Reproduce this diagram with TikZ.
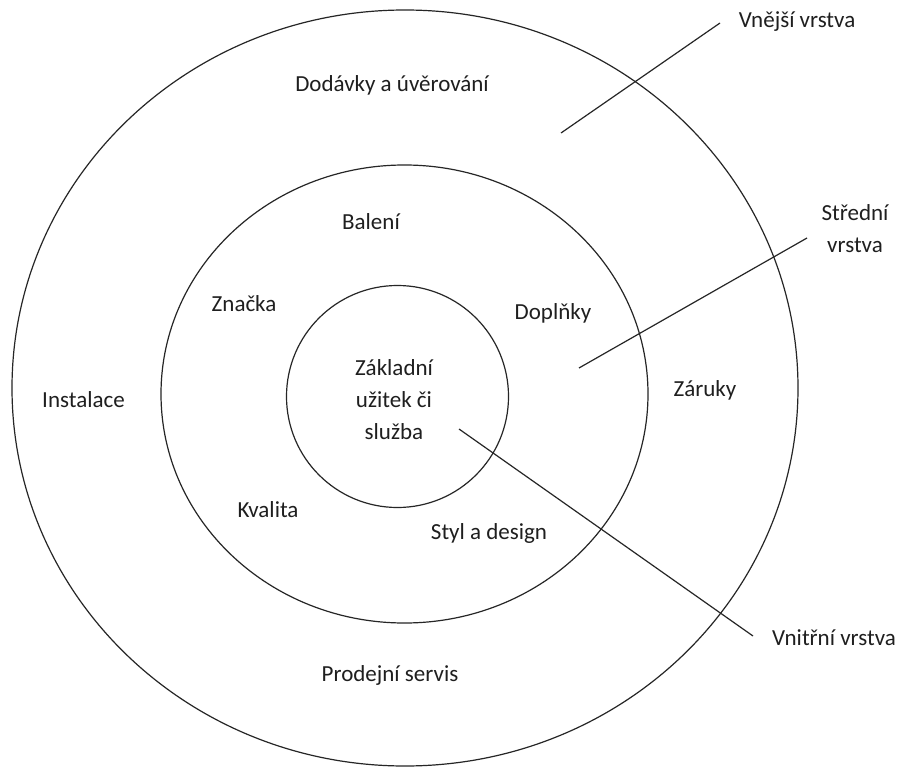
\documentclass[tikz,border=0pt]{standalone}
\usepackage{fontspec}
\setmainfont{Carlito}
\begin{document}
\begin{tikzpicture}[x=0.75pt,y=-0.75pt,
  lbl/.style={font=\fontsize{17.25}{24}\selectfont, inner sep=0pt, align=center, text=black!88},
  ring/.style={draw=black!85, line width=0.9pt},
  lead/.style={draw=black!85, line width=0.9pt}]
\useasboundingbox (0,0) rectangle (900,767);
\fill[white] (0,0) rectangle (900,767);
% rings
\draw[ring] (405,388) ellipse [x radius=393, y radius=378];
\draw[ring] (404.5,394) ellipse [x radius=243.5, y radius=229];
\draw[ring] (397.5,396.5) circle [radius=111];
% labels
\node[lbl] (dod) at (392,85) {Dodávky a úvěrování};
\node[lbl] (vne) at (797,22) {Vnější vrstva};
\node[lbl] (bal) at (371,222) {Balení};
\node[lbl] (zna) at (244,304) {Značka};
\node[lbl] (dop) at (553,313) {Doplňky};
\node[lbl] (str) at (855,229) {Střední\\vrstva};
\node[lbl] (zak) at (394,400) {Základní\\užitek či\\služba};
\node[lbl] (ins) at (83.5,400) {Instalace};
\node[lbl] (zar) at (705,390) {Záruky};
\node[lbl] (kva) at (268,510) {Kvalita};
\node[lbl] (sty) at (489,533) {Styl a design};
\node[lbl] (vni) at (834,638) {Vnitřní vrstva};
\node[lbl] (pro) at (390,675) {Prodejní servis};
% leader lines
\coordinate (a1) at (561,133);
\coordinate (a2) at (720,23);
\coordinate (b1) at (579,368);
\coordinate (b2) at (807,238);
\coordinate (c1) at (459,429);
\coordinate (c2) at (753,636);
\draw[lead] (a1) -- (a2);
\draw[lead] (b1) -- (b2);
\draw[lead] (c1) -- (c2);
\end{tikzpicture}
\end{document}
